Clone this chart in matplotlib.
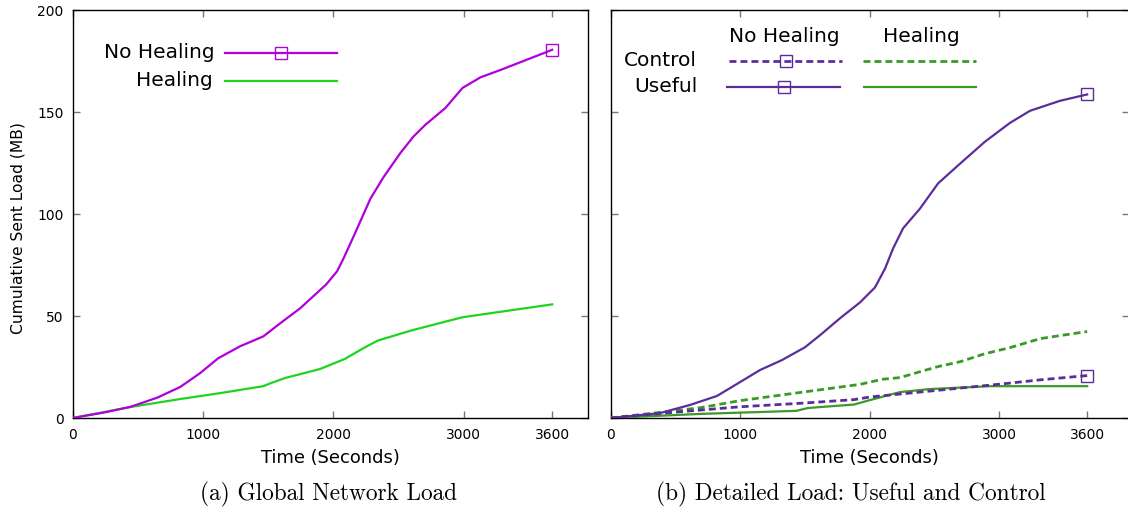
import matplotlib
matplotlib.use("Agg")
import matplotlib.pyplot as plt
from matplotlib.lines import Line2D

plt.rcParams['font.family'] = ['DejaVu Sans']

# ---------------- data ----------------
# x positions of time samples (the "3600" tick sits at the last sample, 3680 on the axis scale)
t_a_noheal = [0, 250, 445, 650, 825, 978, 1117, 1286, 1463, 1594, 1746, 1946, 2030, 2077, 2170,
              2285, 2385, 2516, 2616, 2708, 2861, 2992, 3130, 3283, 3500, 3680]
v_a_noheal = [0, 2.8, 5.5, 10, 15.2, 22, 29.3, 35.2, 40, 46.5, 53.8, 65.5, 72, 78, 91,
              107.5, 118, 130, 138, 143.8, 152, 161.8, 167, 170.6, 176, 180.5]

t_a_heal = [0, 445, 825, 1132, 1463, 1517, 1630, 1898, 2090, 2244, 2343, 2604, 2992, 3680]
v_a_heal = [0, 5.4, 9.3, 12.2, 15.6, 17, 19.6, 24, 29, 34.7, 38, 43, 49.4, 55.7]

t_b_useful_noheal = [0, 382, 614, 822, 1000, 1154, 1324, 1502, 1618, 1772, 1927, 2042, 2120,
                     2181, 2259, 2390, 2529, 2699, 2892, 3085, 3239, 3471, 3680]
v_b_useful_noheal = [0, 2.4, 6.4, 10.8, 17.6, 23.5, 28.4, 34.7, 40.6, 48.9, 56.7, 64, 73.3,
                     83, 93, 102.7, 115, 124.7, 135.5, 144.7, 150.6, 155.5, 158.6]

t_b_useful_heal = [0, 691, 1433, 1525, 1880, 2004, 2235, 2467, 2931, 3680]
v_b_useful_heal = [0, 2, 3.5, 4.9, 6.6, 8.8, 12.7, 14.2, 15.6, 15.6]

t_b_control_noheal = [0, 508, 1000, 1463, 1880, 2004, 2467, 3008, 3317, 3680]
v_b_control_noheal = [0, 2.9, 5.5, 7.2, 9, 10.3, 13.2, 16.6, 18.7, 20.8]

t_b_control_heal = [0, 691, 1000, 1463, 1927, 2100, 2235, 2390, 2529, 2700, 2890, 3085, 3317, 3680]
v_b_control_heal = [0, 5, 8.5, 12.5, 16.5, 19, 19.8, 22.7, 25.2, 27.6, 31.5, 34.5, 38.9, 42.4]

xtick_pos = [0, 1000, 2000, 3000, 3680]
xtick_labels = ['0', '1000', '2000', '3000', '3600']
ytick_vals = [0, 50, 100, 150, 200]

# ---------------- style ----------------
C_MAG = '#b000dc'
C_GRN = '#1ed41e'
C_PUR = '#5c2d9a'
C_DGR = '#3a9a28'
LW = 1.6
LWD = 2.0

W, H = 1128, 507
fig = plt.figure(figsize=(W / 100, H / 100), dpi=100)


def fx(px):
    return px / W


def fy(py):
    return 1 - py / H


ax1 = fig.add_axes([fx(72.7), fy(418), fx(588) - fx(72.7), fy(10) - fy(418)])
ax2 = fig.add_axes([fx(610.5), fy(418), fx(1128.6) - fx(610.5), fy(10) - fy(418)])

for ax, xmax in ((ax1, 3955), (ax2, 4000)):
    ax.set_xlim(0, xmax)
    ax.set_ylim(0, 200)
    ax.set_xticks(xtick_pos)
    ax.set_xticklabels(xtick_labels)
    ax.set_yticks(ytick_vals)
    ax.tick_params(direction='in', length=4.8, width=1.0, color='#777777',
                   top=True, right=True, labelsize=10)
    ax.tick_params(axis='x', pad=7.5)
    ax.tick_params(axis='y', pad=6.5)
    for s in ax.spines.values():
        s.set_linewidth(1.0)
        s.set_color('black')
    ax.set_xlabel('Time (Seconds)', fontsize=12.9)
    ax.xaxis.set_label_coords(0.5, (418 - 458) / 408, transform=ax.transAxes)
    ax.xaxis.label.set_va('center')

ax2.tick_params(axis='y', labelleft=False)

ax1.set_ylabel('Cumulative Sent Load (MB)', fontsize=11.2)
ax1.yaxis.set_label_coords((18 - 72.7) / 515.3, (418 - 228) / 408)
ax1.yaxis.label.set_va('center')

# left panel lines
ax1.plot(t_a_heal, v_a_heal, color=C_GRN, lw=LW, zorder=3)
ax1.plot(t_a_noheal, v_a_noheal, color=C_MAG, lw=LW, zorder=4)
ax1.plot(t_a_noheal[-1:], v_a_noheal[-1:], ls='none', marker='s', ms=9,
         mfc='none', mec=C_MAG, mew=1.0, zorder=5)

# right panel lines
dash = (2.5, 1.45)
ax2.plot(t_b_useful_heal, v_b_useful_heal, color=C_DGR, lw=LW, zorder=3)
ax2.plot(t_b_control_heal, v_b_control_heal, color=C_DGR, lw=LWD, dashes=dash, zorder=3)
ax2.plot(t_b_control_noheal, v_b_control_noheal, color=C_PUR, lw=LWD, dashes=dash, zorder=4)
ax2.plot(t_b_useful_noheal, v_b_useful_noheal, color=C_PUR, lw=LW, zorder=4)
ax2.plot(t_b_useful_noheal[-1:], v_b_useful_noheal[-1:], ls='none', marker='s', ms=9,
         mfc='none', mec=C_PUR, mew=1.0, zorder=5)
ax2.plot(t_b_control_noheal[-1:], v_b_control_noheal[-1:], ls='none', marker='s', ms=9,
         mfc='none', mec=C_PUR, mew=1.0, zorder=5)

# ---------------- legends (drawn manually, gnuplot-style) ----------------
LF = 14.5


def key_line(x0, x1, y, color, lw, dashes=None, marker=False):
    kw = dict(color=color, lw=lw, transform=fig.transFigure)
    if dashes is not None:
        kw['dashes'] = dashes
    fig.add_artist(Line2D([fx(x0), fx(x1)], [fy(y), fy(y)], **kw))
    if marker:
        fig.add_artist(Line2D([fx((x0 + x1) / 2)], [fy(y)], ls='none', marker='s', ms=9,
                              mfc='none', mec=color, mew=1.0, transform=fig.transFigure))


fig.text(fx(214.5), fy(58), 'No Healing', ha='right', va='baseline', fontsize=LF)
fig.text(fx(213), fy(86.5), 'Healing', ha='right', va='baseline', fontsize=LF)
key_line(225, 337, 53, C_MAG, LW, marker=True)
key_line(225, 337, 81.3, C_GRN, LW)

fig.text(fx(784.5), fy(42), 'No Healing', ha='center', va='baseline', fontsize=LF)
fig.text(fx(921), fy(41.5), 'Healing', ha='center', va='baseline', fontsize=LF)
fig.text(fx(696.5), fy(66), 'Control', ha='right', va='baseline', fontsize=LF)
fig.text(fx(697.5), fy(92.3), 'Useful', ha='right', va='baseline', fontsize=LF)
key_line(729, 842, 60.7, C_PUR, LWD, dashes=dash, marker=True)
key_line(727, 840, 87.3, C_PUR, LW, marker=True)
key_line(863, 976, 60.7, C_DGR, LWD, dashes=dash)
key_line(864, 976, 87.3, C_DGR, LW)

# ---------------- captions ----------------
fig.text(fx(329), fy(500), '(a) Global Network Load', ha='center', va='baseline',
         fontsize=16.8, family=['cmr10', 'DejaVu Serif'])
fig.text(fx(851), fy(500), '(b) Detailed Load: Useful and Control', ha='center',
         va='baseline', fontsize=16.8, family=['cmr10', 'DejaVu Serif'])

fig.savefig('out.png', dpi=100)
